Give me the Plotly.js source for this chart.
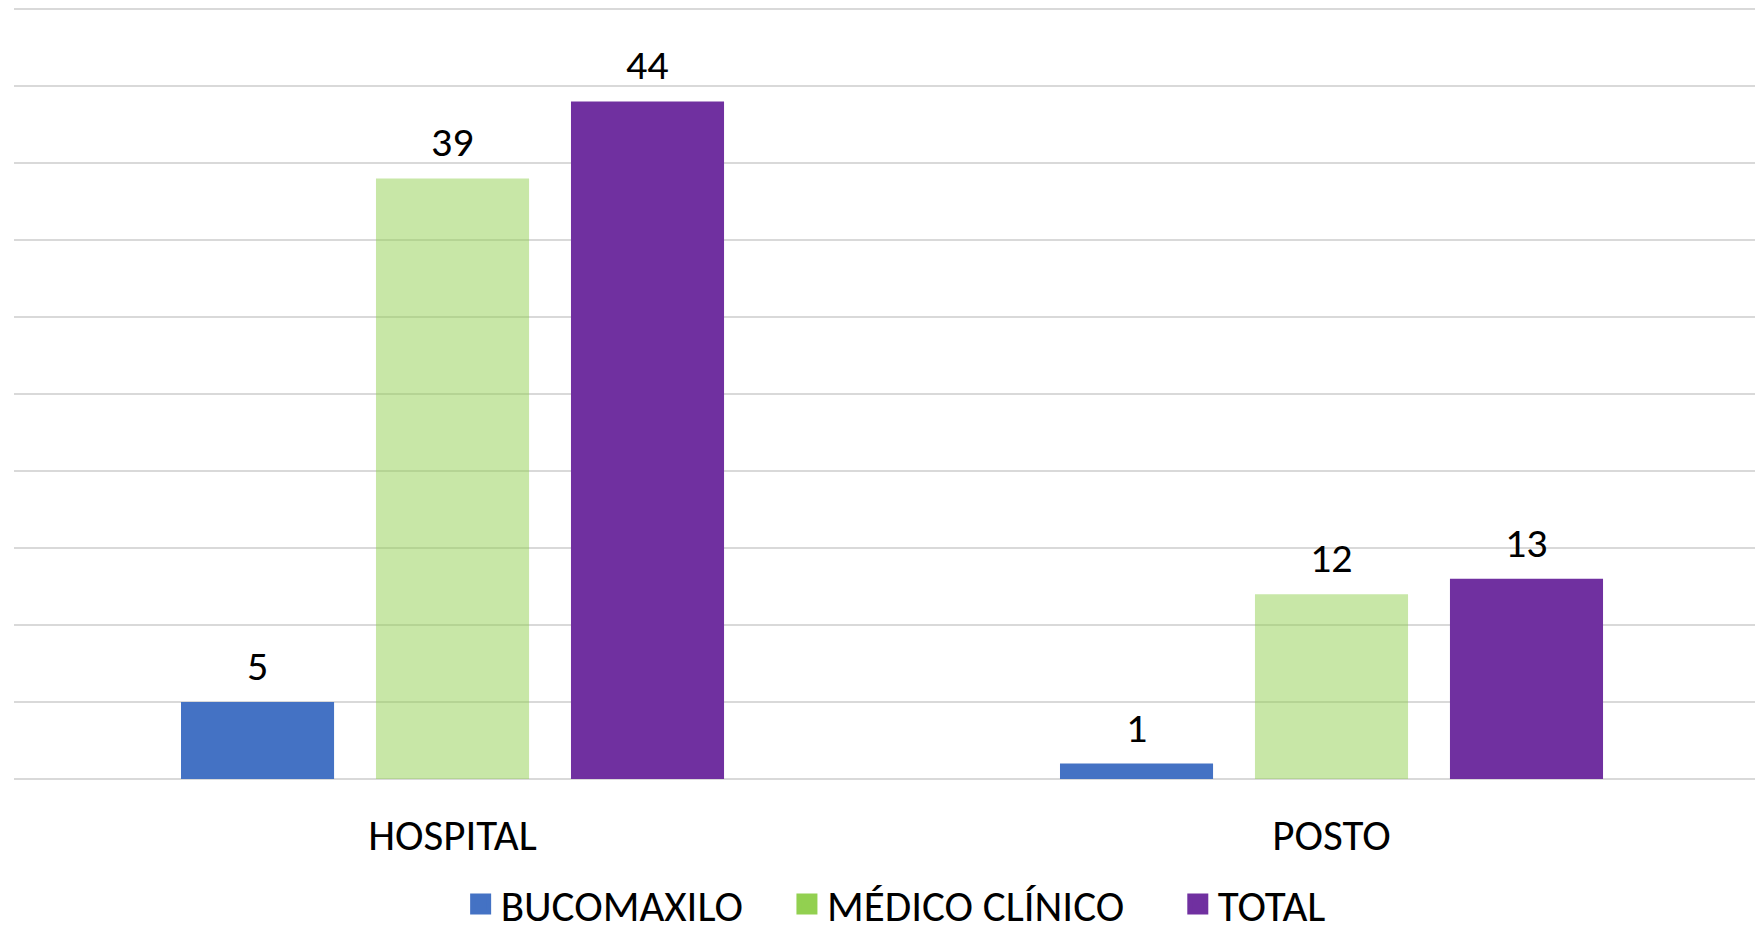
<!DOCTYPE html>
<html>
<head>
<meta charset="utf-8">
<script src="https://cdn.plot.ly/plotly-3.0.1.min.js"></script>
<style>
html,body{margin:0;padding:0;background:#fff;overflow:hidden;}
#chart{width:1755px;height:960px;}
</style>
</head>
<body>
<div id="chart"></div>
<script>
// ---- data ----
const categories = ["HOSPITAL", "POSTO"];
const seriesNames = ["BUCOMAXILO", "MÉDICO CLÍNICO", "TOTAL"];
const bucomaxilo = [5, 1];
const medicoClinico = [39, 12];
const total = [44, 13];

// ---- styles ----
const barColors = ["#4472C4", "rgba(146,208,80,0.5)", "#7030A0"];
const legendColors = ["#4472C4", "#92D050", "#7030A0"];
const legendPad = ["\u00a0\u00a0\u00a0\u00a0", "\u00a0\u00a0\u00a0\u00a0\u00a0", ""];
const FONT = "Calibri, Carlito, Lato, 'Open Sans', sans-serif";

const seriesValues = [bucomaxilo, medicoClinico, total];
const traces = [];
seriesValues.forEach((vals, i) => {
  traces.push({
    type: "bar",
    name: seriesNames[i],
    x: categories,
    y: vals,
    marker: {color: barColors[i]},
    showlegend: false,
    hoverinfo: "x+y+name"
  });
});
// legend entries
seriesNames.forEach((n, i) => {
  traces.push({
    type: "scatter",
    mode: "markers",
    name: n + legendPad[i],
    x: categories,
    y: [null, null],
    marker: {symbol: "square", size: 22, color: legendColors[i],
             line: {color: legendColors[i], width: 5}},
    showlegend: true,
    hoverinfo: "skip"
  });
});

const slotPx = 195;
const annotations = [];
seriesValues.forEach((vals, i) => {
  vals.forEach((v, j) => {
    annotations.push({
      x: categories[j], y: v, xref: "x", yref: "y",
      text: String(v), showarrow: false,
      xanchor: "center", yanchor: "bottom",
      xshift: (i - 1) * slotPx, yshift: 9,
      font: {family: FONT, size: 42, color: "#000"}
    });
  });
});

const layout = {
  width: 1755, height: 960,
  margin: {l: 14, r: 0, t: 7, b: 181},
  paper_bgcolor: "#fff", plot_bgcolor: "#fff",
  barmode: "group",
  bargap: 0.3345,
  bargroupgap: 0.215,
  font: {family: FONT, size: 43, color: "#000"},
  xaxis: {
    type: "category",
    range: [-0.4989, 1.4818],
    showgrid: false, zeroline: false,
    showline: false,
    ticks: "",
    ticklabelstandoff: 27,
    tickfont: {family: FONT, size: 43, color: "#000"},
    fixedrange: true
  },
  yaxis: {
    range: [0, 50.13],
    dtick: 5,
    showgrid: true, gridcolor: "#d9d9d9", gridwidth: 1.5,
    zeroline: true, zerolinecolor: "#d9d9d9", zerolinewidth: 1.5,
    showticklabels: false, ticks: "",
    fixedrange: true
  },
  legend: {
    orientation: "h",
    x: 0.5064, xanchor: "center",
    y: -0.162, yanchor: "middle",
    font: {family: FONT, size: 43, color: "#000"},
    itemwidth: 30,
    traceorder: "normal"
  },
  annotations: annotations,
  showlegend: true
};

Plotly.newPlot("chart", traces, layout, {displayModeBar: false, staticPlot: true});
</script>
</body>
</html>
